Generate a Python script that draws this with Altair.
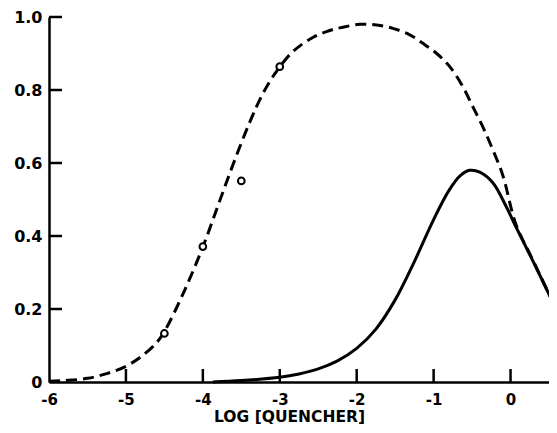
import altair as alt
import pandas as pd

# Dashed curve
dash_x = [-6.0, -5.8, -5.5, -5.25, -5.0, -4.8, -4.6, -4.5, -4.25, -4.0, -3.8, -3.6, -3.39,
          -3.22, -3.04, -2.83, -2.57, -2.35, -2.18, -1.96, -1.74, -1.53, -1.31, -1.14,
          -0.96, -0.79, -0.62, -0.49, -0.36, -0.23, -0.10, 0.07, 0.29, 0.57]
dash_y = [0.002, 0.004, 0.010, 0.023, 0.043, 0.070, 0.108, 0.138, 0.245, 0.370, 0.485, 0.600,
          0.712, 0.790, 0.852, 0.905, 0.944, 0.963, 0.972, 0.980, 0.978, 0.969, 0.951, 0.928,
          0.900, 0.864, 0.809, 0.754, 0.699, 0.636, 0.566, 0.432, 0.334, 0.21]

# Solid curve
solid_x = [-3.87, -3.5, -3.0, -2.75, -2.5, -2.25, -2.0, -1.75, -1.5, -1.25, -1.0, -0.8,
           -0.65, -0.53, -0.4, -0.23, -0.05, 0.07, 0.29, 0.57]
solid_y = [0.0, 0.004, 0.013, 0.022, 0.036, 0.058, 0.092, 0.145, 0.225, 0.330, 0.445, 0.525,
           0.566, 0.580, 0.575, 0.546, 0.478, 0.425, 0.332, 0.21]

# Open-circle data points
pt_x = [-4.5, -4.0, -3.5, -3.0]
pt_y = [0.133, 0.371, 0.551, 0.864]

x_ticks = [-6, -5, -4, -3, -2, -1, 0]
y_ticks = [0, 0.2, 0.4, 0.6, 0.8, 1.0]
x_inner_ticks = [-5, -4, -3, -2, -1, 0]
y_inner_ticks = [0.2, 0.4, 0.6, 0.8, 1.0]

XMIN, XMAX = -6, 0.5
W, H = 500, 365
FONT = "DejaVu Sans"

dash_df = pd.DataFrame({"x": dash_x, "y": dash_y})
solid_df = pd.DataFrame({"x": solid_x, "y": solid_y})
pt_df = pd.DataFrame({"x": pt_x, "y": pt_y})
xt_df = pd.DataFrame({"x": x_inner_ticks})
yt_df = pd.DataFrame({"y": y_inner_ticks})

xscale = alt.Scale(domain=[XMIN, XMAX], nice=False, zero=False)
yscale = alt.Scale(domain=[0, 1], nice=False, zero=False)

xaxis = alt.Axis(values=x_ticks, labelExpr="datum.value + ''", ticks=False, tickSize=0,
                 grid=False, labelPadding=10, labelFontSize=15, labelFont=FONT,
                 labelFontWeight="bold", labelColor="black", domainColor="black",
                 domainWidth=2.5, title="LOG [QUENCHER]", titleFont=FONT,
                 titleFontSize=15.5, titleFontWeight="bold", titleColor="black",
                 titleX=240, titleY=39, titleBaseline="alphabetic", titleAnchor="middle",
                 titleAlign="center", labelFlush=False)
yaxis = alt.Axis(values=y_ticks,
                 labelExpr="datum.value == 0 ? '0' : format(datum.value, '.1f')",
                 ticks=False, tickSize=0, grid=False, labelPadding=7, labelFontSize=16,
                 labelFont=FONT, labelFontWeight="bold", labelColor="black",
                 domainColor="black", domainWidth=2.5, title=None, labelFlush=False)

X = alt.X("x:Q", scale=xscale, axis=xaxis, title="LOG [QUENCHER]")
Y = alt.Y("y:Q", scale=yscale, axis=yaxis, title=None)

dashed = alt.Chart(dash_df).mark_line(
    color="black", strokeWidth=3, strokeDash=[11, 6], interpolate="catmull-rom"
).encode(x=X, y=Y)

solid = alt.Chart(solid_df).mark_line(
    color="black", strokeWidth=3, interpolate="catmull-rom"
).encode(x=X, y=Y)

points = alt.Chart(pt_df).mark_point(
    shape="circle", filled=True, fill="white", stroke="black", strokeWidth=2,
    size=45, opacity=1
).encode(x=X, y=Y)

# inward tick marks, drawn on top
xticks = alt.Chart(xt_df).mark_rule(color="black", strokeWidth=2.5).encode(
    x=X, y=alt.value(H), y2=alt.value(H - 13))

yticks = alt.Chart(yt_df).mark_rule(color="black", strokeWidth=2.5).encode(
    y=Y, x=alt.value(0), x2=alt.value(13))

chart = alt.layer(dashed, solid, points, xticks, yticks).properties(
    width=W, height=H,
    autosize=alt.AutoSizeParams(type="none"),
    padding={"left": 41, "top": 9, "right": 0, "bottom": 43},
    background="white",
).configure_view(stroke=None)

chart.save("out.html", embed_options={"renderer": "svg", "actions": False})
